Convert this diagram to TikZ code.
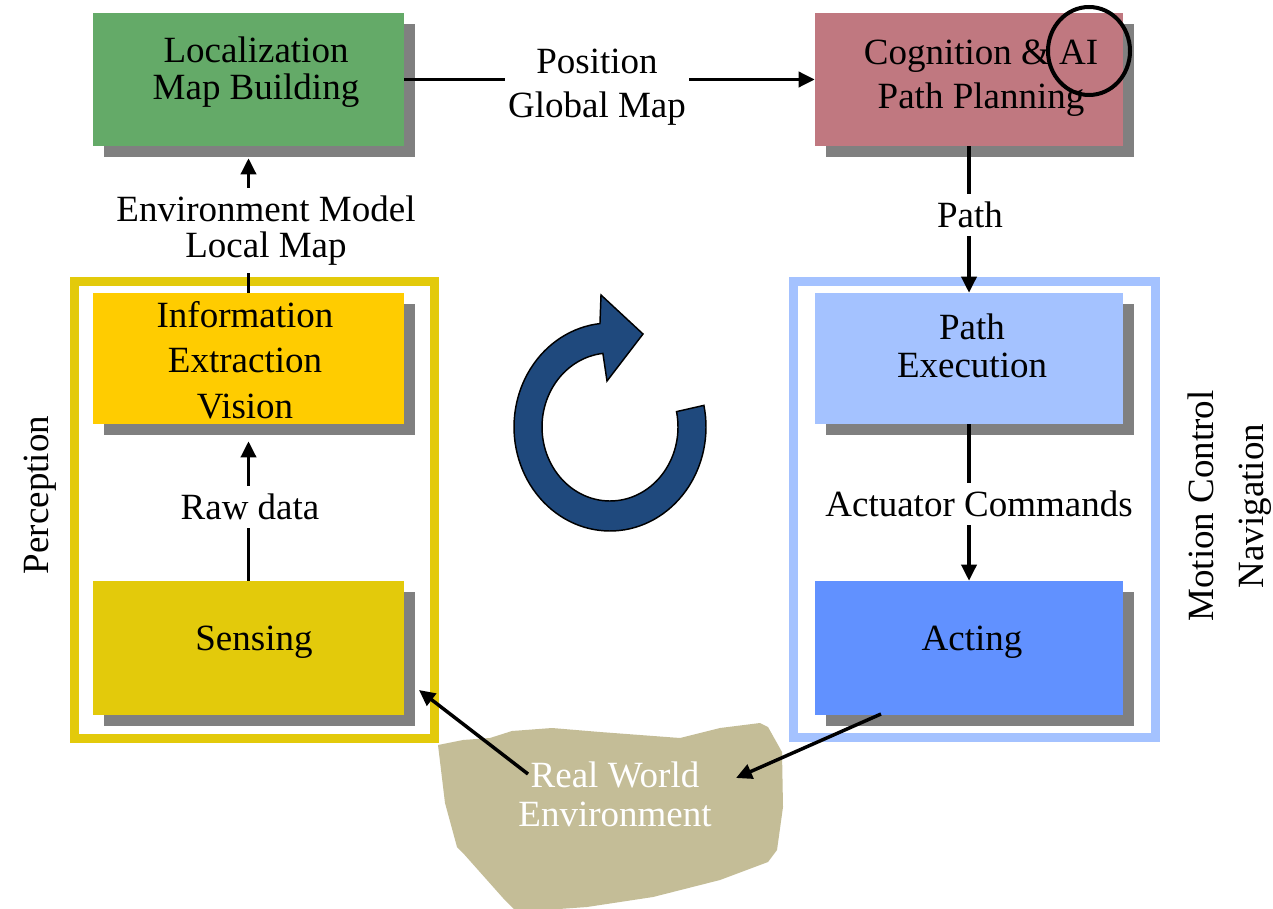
\documentclass[tikz,border=0pt]{standalone}
\usepackage{fontspec}
\setmainfont{Liberation Serif}
\usetikzlibrary{arrows.meta,shadows}

\definecolor{locgreen}{HTML}{64AA68}
\definecolor{coglrose}{HTML}{C07880}
\definecolor{infoyellow}{HTML}{FFCC00}
\definecolor{sensyellow}{HTML}{E3CA0B}
\definecolor{pexblue}{HTML}{A4C2FF}
\definecolor{actblue}{HTML}{6191FF}
\definecolor{shadowgray}{HTML}{808080}
\definecolor{worldtan}{HTML}{C4BD97}
\definecolor{cycleblue}{HTML}{1F497D}

\begin{document}
\begin{tikzpicture}[x=0.75pt,y=-0.75pt,
  box/.style={rectangle, draw=none, inner sep=0pt,
    drop shadow={shadow xshift=8.25pt, shadow yshift=-8.25pt, fill=shadowgray, opacity=1}},
  wide/.style={minimum width=233.25pt},
  narrow/.style={minimum width=231pt},
  lbl/.style={inner sep=0pt, align=center, font=\fontsize{27.75}{27.75}\selectfont},
  gaplbl/.style={lbl, fill=white, inner xsep=2pt, inner ysep=6pt},
  conn/.style={line width=2.6pt, -{Triangle[length=12pt,width=11.25pt]}},
  frame/.style={line width=6.75pt}
]
\useasboundingbox (0,0) rectangle (1273,909);
\fill[white] (0,0) rectangle (1273,909);

% group frames
\draw[frame, draw=sensyellow] (74.5,281) rectangle (434.5,738);
\draw[frame, draw=pexblue] (793.5,281) rectangle (1155.5,737);

% the environment blob
\fill[worldtan] (438,745) -- (463,740) -- (490,738) -- (512,731) -- (552,728)
  -- (600,732) -- (680,738) -- (720,728) -- (760,723) -- (768,727) -- (782,752)
  -- (783,807) -- (777,850) -- (768,862) -- (720,880) -- (653,897) -- (587,907)
  -- (517,912) -- (503,898) -- (463,853) -- (457,847) -- (445,803) -- cycle;

% boxes
\node[box, wide, fill=locgreen, minimum height=99.75pt] (loc) at (248.5,79.5) {};
\node[box, narrow, fill=coglrose, minimum height=99.75pt] (cog) at (969,79.5) {};
\node[box, wide, fill=infoyellow, minimum height=98.25pt] (info) at (248.5,358.5) {};
\node[box, wide, fill=sensyellow, minimum height=100.5pt] (sens) at (248.5,648) {};
\node[box, narrow, fill=pexblue, minimum height=98.25pt] (pex) at (969,358.5) {};
\node[box, narrow, fill=actblue, minimum height=100.5pt] (act) at (969,648) {};

% free ends of the environment arrows
\coordinate (rwA) at (528,774);
\coordinate (sensA) at (419,690);
\coordinate (actA) at (881,714);
\coordinate (rwB) at (736,778);

% connectors
\draw[conn] (loc.east) -- (cog.west);
\draw[conn] (cog.south) -- (pex.north);
\draw[conn] (pex.south) -- (act.north);
\draw[conn] (sens.north) -- ([yshift=-12.75pt]info.south);
\draw[conn] (info.north) -- ([yshift=-9pt]loc.south);
\draw[conn] (rwA) -- (sensA);
\draw[conn] (actA) -- (rwB);

% box texts
\node[lbl] (locT) at (256,72.5) {Localization\\Map Building};
\node[lbl, font=\fontsize{27.75}{33}\selectfont] (cogT) at (981,78) {Cognition \& AI\\Path Planning};
\node[lbl, font=\fontsize{27.75}{34}\selectfont] (infoT) at (245,360) {Information\\Extraction\\Vision};
\node[lbl] (sensT) at (254,642) {Sensing};
\node[lbl, font=\fontsize{27.75}{28.5}\selectfont] (pexT) at (972,346) {Path\\Execution};
\node[lbl] (actT) at (972,642) {Acting};

% connector labels
\node[gaplbl, font=\fontsize{27.75}{33}\selectfont] (posT) at (597,87) {Position\\Global Map};
\node[gaplbl, font=\fontsize{27.75}{27}\selectfont] (envT) at (266,230.5) {Environment Model\\Local Map};
\node[gaplbl] (pathT) at (970,215) {Path};
\node[gaplbl] (rawT) at (250,507) {Raw data};
\node[gaplbl] (actcT) at (979,504) {Actuator Commands};
\node[lbl, text=white, font=\fontsize{27.75}{29.25}\selectfont] (rwT) at (615,794) {Real World\\Environment};

% side titles
\node[lbl, rotate=90] (percT) at (40,495) {Perception};
\node[lbl, rotate=90, font=\fontsize{27.75}{37.5}\selectfont] (mcT) at (1230,506) {Motion Control\\Navigation};

% cycle arrow in the middle
\filldraw[fill=cycleblue, draw=black, line width=1.1pt, line join=miter]
  plot[domain=12:-264, samples=90] ({610+96*cos(\x)},{427-104*sin(\x)})
  -- (601,295) -- (643,334) -- (607,381)
  -- plot[domain=-264:12, samples=90] ({610+68*cos(\x)},{427-74*sin(\x)})
  -- cycle;

% mark around "AI"
\draw[line width=3pt] (1089,51) ellipse [x radius=41, y radius=44];
\end{tikzpicture}
\end{document}
